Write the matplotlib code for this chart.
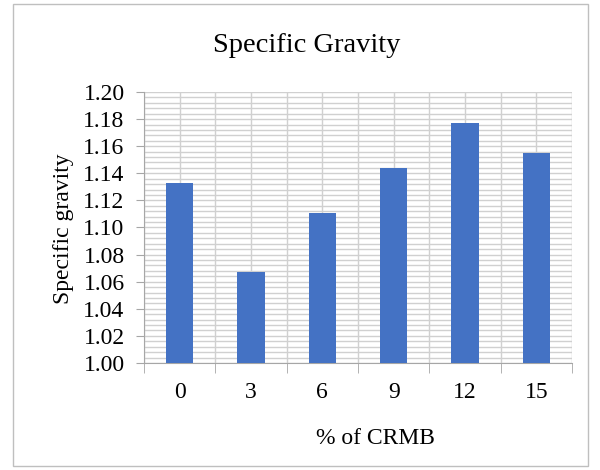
import numpy as np
import matplotlib.pyplot as plt
from matplotlib.patches import Rectangle
from matplotlib.ticker import MultipleLocator

# % of CRMB vs specific gravity
crmb = ['0', '3', '6', '9', '12', '15']
sg = [1.133, 1.067, 1.111, 1.144, 1.177, 1.155]

plt.rcParams['font.family'] = ['Liberation Serif', 'DejaVu Serif']

fig = plt.figure(figsize=(6, 4.7), dpi=100)
ax = fig.add_axes([144 / 600, 1 - 363 / 470, (572 - 144) / 600, (363 - 92) / 470])

x = np.arange(len(crmb))
ax.bar(x, [v - 1.0 for v in sg], bottom=1.0, width=0.38, color='#4472C4', zorder=3)

ax.set_xlim(-0.5, len(crmb) - 0.5)
ax.set_ylim(1.0, 1.2)

# grid: majors every 0.02, minors every 0.004, verticals at centers + boundaries
ax.yaxis.set_major_locator(MultipleLocator(0.02))
ax.yaxis.set_minor_locator(MultipleLocator(0.004))
ax.set_yticks(ax.get_yticks())
ax.set_yticklabels([f'{t:.2f}' for t in ax.get_yticks()])
ax.set_ylim(1.0, 1.2)
ax.set_xticks(x)
ax.set_xticklabels(crmb)
ax.set_xticks(np.arange(-0.5, len(crmb)), minor=True)
ax.grid(True, which='both', color='#d0d0d0', linewidth=1.0, zorder=0)
ax.set_axisbelow(True)

ax.tick_params(axis='x', which='major', length=0, pad=14, labelsize=17)
ax.tick_params(axis='x', which='minor', length=7, color='#a6a6a6', direction='out')
ax.tick_params(axis='y', which='major', length=6, color='#a6a6a6', labelsize=17, pad=8)
ax.tick_params(axis='y', which='minor', length=0)

for side in ['top', 'right']:
    ax.spines[side].set_visible(False)
for side in ['left', 'bottom']:
    ax.spines[side].set_color('#a6a6a6')

ax.set_ylabel('Specific gravity', fontsize=17, va='center')
ax.yaxis.set_label_coords(-0.189, 0.494)
ax.set_xlabel('% of CRMB', fontsize=17, va='center')
ax.xaxis.set_label_coords(0.54, -0.277)
fig.text(307 / 600, 1 - 45 / 470, 'Specific Gravity', fontsize=20.5, ha='center', va='center')

fig.patches.append(Rectangle((13 / 600, 4 / 470), 575 / 600, 462 / 470, transform=fig.transFigure,
                             fill=False, edgecolor='#bfbfbf', linewidth=1.0))

fig.savefig('out.png', dpi=100)
